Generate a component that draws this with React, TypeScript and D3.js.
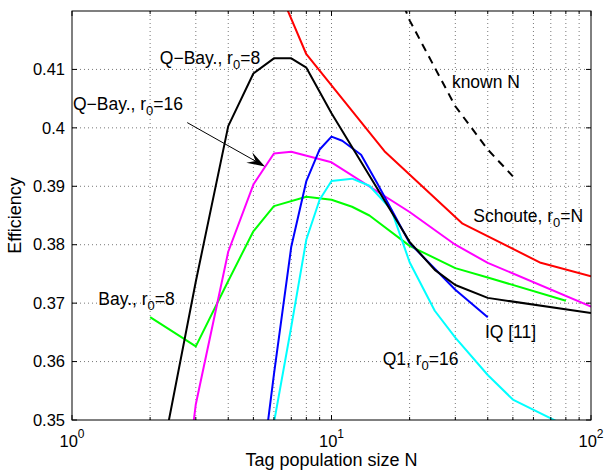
import React from 'react';
import * as d3 from 'd3';

// N values and efficiencies
const qBay8N = [2, 3, 4, 5, 6, 7, 8, 10, 20, 25, 30, 40, 100];
const qBay8E = [0.3334, 0.3737, 0.4003, 0.4093, 0.4119, 0.4119, 0.4103, 0.4025, 0.3805, 0.3757, 0.3731, 0.3709, 0.3683];

const schouteN = [4, 8, 16, 32, 64, 100];
const schouteE = [0.444, 0.4126, 0.396, 0.3836, 0.3769, 0.3746];

const knownN = [10, 20, 30, 40, 50];
const knownE = [0.452, 0.4184, 0.4037, 0.3963, 0.3917];

const qBay16N = [2, 3, 4, 5, 6, 7, 10, 20, 30, 40, 100];
const qBay16E = [0.29, 0.3527, 0.3788, 0.3903, 0.3956, 0.3959, 0.3941, 0.3856, 0.38, 0.3769, 0.3694];

const bay8N = [2, 3, 4, 5, 6, 8, 10, 12, 14, 20, 30, 40, 80];
const bay8E = [0.3676, 0.3626, 0.3738, 0.3823, 0.3866, 0.3882, 0.3877, 0.3865, 0.385, 0.3798, 0.376, 0.3744, 0.3704];

const iqN = [5, 6, 7, 8, 9, 10, 11, 13, 15, 20, 30, 40];
const iqE = [0.33, 0.3578, 0.3797, 0.3909, 0.3963, 0.3985, 0.3978, 0.3954, 0.3905, 0.3803, 0.3723, 0.3676];

const q1N = [6, 7, 8, 9, 10, 12, 14, 17, 20, 25, 30, 40, 50, 80];
const q1E = [0.3495, 0.366, 0.3809, 0.3877, 0.3909, 0.3913, 0.3901, 0.386, 0.377, 0.3687, 0.3641, 0.3577, 0.3535, 0.349];

const yTicks = [0.35, 0.36, 0.37, 0.38, 0.39, 0.4, 0.41];
const yTickLabels = ['0.35', '0.36', '0.37', '0.38', '0.39', '0.4', '0.41'];
const xMajor = [1, 10, 100];
const xMajorExp = ['0', '1', '2'];
const xMinor = [2, 3, 4, 5, 6, 7, 8, 9, 20, 30, 40, 50, 60, 70, 80, 90];

// arrow from the "Q-Bay., r0=16" label to its curve, [N, efficiency]
const arrowFrom = [2.78, 0.4009];
const arrowTo = [5.54, 0.3934];

const W = 605;
const H = 470;
const margin = { top: 11, right: 14, bottom: 50, left: 72 };
const FONT = '"Liberation Sans", Arial, Helvetica, sans-serif';

const App = () => {
  const x = d3.scaleLog().domain([1, 100]).range([margin.left, W - margin.right]);
  const y = d3.scaleLinear().domain([0.35, 0.42]).range([H - margin.bottom, margin.top]);
  const [x0, x1] = x.range();
  const [y0, y1] = y.range();

  const line = d3.line<[number, number]>()
    .x(d => x(d[0]))
    .y(d => y(d[1]));

  const series = [
    { n: bay8N, e: bay8E, color: '#00ff00' },
    { n: qBay16N, e: qBay16E, color: '#ff00ff' },
    { n: schouteN, e: schouteE, color: '#ff0000' },
    { n: q1N, e: q1E, color: '#00ffff' },
    { n: iqN, e: iqE, color: '#0000ff' },
    { n: qBay8N, e: qBay8E, color: '#000000' },
  ];

  const sub = (base: string, s: string, rest: string) => (
    <>
      {base}
      <tspan fontSize={13} dy={5}>{s}</tspan>
      <tspan dy={-5}>{rest}</tspan>
    </>
  );

  const labels = [
    { n: 2.18, e: 0.411, content: sub('Q\u2212Bay., r', '0', '=8') },
    { n: 1.009, e: 0.4031, content: sub('Q\u2212Bay., r', '0', '=16') },
    { n: 29.1, e: 0.4069, content: 'known N' },
    { n: 35.2, e: 0.3839, content: sub('Schoute, r', '0', '=N') },
    { n: 1.263, e: 0.3697, content: sub('Bay., r', '0', '=8') },
    { n: 39.0, e: 0.364, content: 'IQ [11]' },
    { n: 15.75, e: 0.3594, content: sub('Q1, r', '0', '=16') },
  ];

  const ax = x(arrowFrom[0]);
  const ay = y(arrowFrom[1]);
  const bx = x(arrowTo[0]);
  const by = y(arrowTo[1]);
  const ang = Math.atan2(by - ay, bx - ax);
  const head = (len: number, wid: number) => {
    const cx = Math.cos(ang);
    const sy = Math.sin(ang);
    const p1 = [bx - len * cx - wid * sy, by - len * sy + wid * cx];
    const p2 = [bx - len * 0.6 * cx, by - len * 0.6 * sy];
    const p3 = [bx - len * cx + wid * sy, by - len * sy - wid * cx];
    return `M${bx},${by}L${p1[0]},${p1[1]}L${p2[0]},${p2[1]}L${p3[0]},${p3[1]}Z`;
  };

  return (
    <svg width={W} height={H} style={{ position: 'absolute', left: 0, top: 0, background: '#fff' }} fontFamily={FONT}>
      <defs>
        <clipPath id="plot">
          <rect x={x0} y={y1} width={x1 - x0} height={y0 - y1} />
        </clipPath>
      </defs>

      {/* grid */}
      <g stroke="#555" strokeWidth={0.8} strokeDasharray="1,3">
        {yTicks.slice(1).map(t => (
          <line key={'gy' + t} x1={x0} x2={x1} y1={y(t)} y2={y(t)} />
        ))}
        {[...xMinor, 10].map(t => (
          <line key={'gx' + t} x1={x(t)} x2={x(t)} y1={y0} y2={y1} />
        ))}
      </g>

      {/* curves */}
      <g clipPath="url(#plot)" fill="none" strokeWidth={2} strokeLinejoin="round">
        {series.map((s, i) => (
          <path key={i} d={line(s.n.map((n, j) => [n, s.e[j]]) as [number, number][]) || ''} stroke={s.color} />
        ))}
        <path
          d={line(knownN.map((n, j) => [n, knownE[j]]) as [number, number][]) || ''}
          stroke="#000"
          strokeDasharray="8,6"
        />
      </g>

      {/* box and ticks */}
      <rect x={x0} y={y1} width={x1 - x0} height={y0 - y1} fill="none" stroke="#000" strokeWidth={1} />
      <g stroke="#000" strokeWidth={1}>
        {yTicks.map(t => (
          <g key={'ty' + t}>
            <line x1={x0} x2={x0 + 5} y1={y(t)} y2={y(t)} />
            <line x1={x1} x2={x1 - 5} y1={y(t)} y2={y(t)} />
          </g>
        ))}
        {xMajor.map(t => (
          <g key={'tx' + t}>
            <line x1={x(t)} x2={x(t)} y1={y0} y2={y0 - 5} />
            <line x1={x(t)} x2={x(t)} y1={y1} y2={y1 + 5} />
          </g>
        ))}
        {xMinor.map(t => (
          <g key={'tm' + t}>
            <line x1={x(t)} x2={x(t)} y1={y0} y2={y0 - 3} />
            <line x1={x(t)} x2={x(t)} y1={y1} y2={y1 + 3} />
          </g>
        ))}
      </g>

      {/* tick labels */}
      <g fontSize={16.5} fill="#000">
        {yTicks.map((t, i) => (
          <text key={'ly' + t} x={x0 - 7} y={y(t)} dy="0.35em" textAnchor="end">{yTickLabels[i]}</text>
        ))}
        {xMajor.map((t, i) => (
          <text key={'lx' + t} x={x(t)} y={y0 + 27} textAnchor="middle">
            10<tspan fontSize={12} dy={-9}>{xMajorExp[i]}</tspan>
          </text>
        ))}
      </g>

      {/* axis labels */}
      <text x={(x0 + x1) / 2} y={H - 4} textAnchor="middle" fontSize={18}>Tag population size N</text>
      <text transform={`translate(21,${(y0 + y1) / 2}) rotate(-90)`} textAnchor="middle" fontSize={18}>Efficiency</text>

      {/* annotations */}
      <g fontSize={17.5} fill="#000">
        {labels.map((l, i) => (
          <text key={'an' + i} x={x(l.n)} y={y(l.e)}>{l.content}</text>
        ))}
      </g>
      <line x1={ax} y1={ay} x2={bx - 8 * Math.cos(ang)} y2={by - 8 * Math.sin(ang)} stroke="#000" strokeWidth={1} />
      <path d={head(18, 6)} fill="#000" />
    </svg>
  );
};

export default App;
